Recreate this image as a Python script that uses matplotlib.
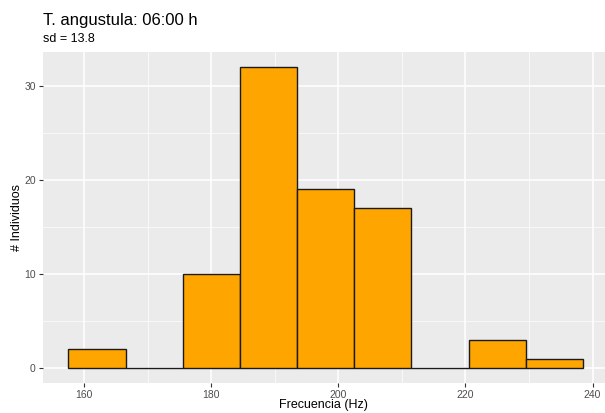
import numpy as np
import matplotlib
matplotlib.use('Agg')
import matplotlib.pyplot as plt

plt.rcParams['font.family'] = ['Liberation Sans', 'DejaVu Sans']

# histogram: bin edges (Hz) and counts
bin_edges = [157.5, 166.5, 175.5, 184.5, 193.5, 202.5, 211.5, 220.5, 229.5, 238.5]
counts = [2, 0, 10, 32, 19, 17, 0, 3, 1]
x_ticks = [160, 180, 200, 220, 240]
y_ticks = [0, 10, 20, 30]

W, H = 605, 413
fig = plt.figure(figsize=(W / 100, H / 100), dpi=100)

# panel in pixels
left, right, top, bottom = 42.7, 608.7, 51.7, 383.3
ax = fig.add_axes([left / W, 1 - bottom / H, (right - left) / W, (bottom - top) / H])
ax.set_facecolor('#EBEBEB')
for s in ax.spines.values():
    s.set_visible(False)

edges = np.array(bin_edges)
ax.bar(edges[:-1], counts, width=np.diff(edges), align='edge',
       color='#FFA500', edgecolor='#1a1a1a', linewidth=1.0, zorder=3)

ax.set_xlim(153.45, 242.55)
ax.set_ylim(-1.6, 33.6)
ax.set_xticks(x_ticks)
ax.set_yticks(y_ticks)
ax.set_xticks([170, 190, 210, 230], minor=True)
ax.set_yticks([5, 15, 25], minor=True)
ax.grid(which='major', color='white', linewidth=1.1, zorder=0)
ax.grid(which='minor', color='white', linewidth=0.5, zorder=0)
ax.set_axisbelow(True)
ax.tick_params(which='major', length=3, width=0.8, color='#333333',
               labelcolor='#4D4D4D', labelsize=7.5, pad=2)
ax.tick_params(which='minor', length=0)

fig.text((left + 605) / 2 / W, 1 - 405 / H, 'Frecuencia (Hz)', fontsize=9,
         ha='center', va='center')
fig.text(17 / W, 1 - (top + bottom) / 2 / H, '# Individuos', fontsize=9,
         ha='center', va='center', rotation=90)

fig.text(left / W, 1 - 20 / H, 'T. angustula: 06:00 h', fontsize=12,
         ha='left', va='center')
fig.text(left / W, 1 - 39 / H, 'sd = 13.8', fontsize=9,
         ha='left', va='center')

fig.savefig('out.png', dpi=100)
